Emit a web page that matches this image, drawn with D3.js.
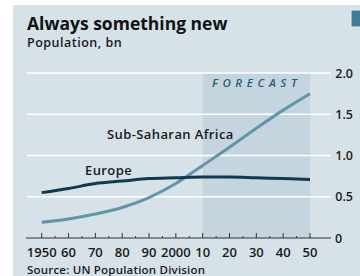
<!DOCTYPE html>
<html>
<head>
<meta charset="utf-8">
<script src="https://cdn.jsdelivr.net/npm/d3@7"></script>
<style>
  body { margin: 0; background: #fff; }
  svg { display: block; font-family: "Open Sans", "Noto Sans", sans-serif; }
</style>
</head>
<body>
<div id="chart"></div>
<script>
// data
let years = [1950, 1960, 1970, 1980, 1990, 2000, 2010, 2020, 2030, 2040, 2050];
let europe = [0.55, 0.60, 0.66, 0.69, 0.72, 0.73, 0.74, 0.74, 0.73, 0.72, 0.71];
let subSaharan = [0.19, 0.23, 0.29, 0.37, 0.49, 0.66, 0.88, 1.10, 1.33, 1.55, 1.75];
let yTicks = [0, 0.5, 1.0, 1.5, 2.0];
let yTickLabels = ["0", "0.5", "1.0", "1.5", "2.0"];
let xTickLabels = ["1950", "60", "70", "80", "90", "2000", "10", "20", "30", "40", "50"];
let forecastStart = 2010, forecastEnd = 2050;

function init() {
    let width = 360, height = 276;
    let svg = d3.select("#chart").append("svg")
        .attr("width", width)
        .attr("height", height);

    // panel background
    svg.append("rect")
        .attr("x", 13).attr("y", 5)
        .attr("width", width - 13).attr("height", height - 5)
        .attr("fill", "#d6e1e8");
    // cut-off badge in top right corner
    svg.append("rect")
        .attr("x", 351).attr("y", 10)
        .attr("width", 12).attr("height", 17)
        .attr("fill", "#3e7d95")
        .attr("stroke", "#eaf1f4").attr("stroke-width", 1);

    let x = d3.scaleLinear().domain([1950, 2050]).range([41.7, 310]);
    let y = d3.scaleLinear().domain([0, 2]).range([238, 73]);

    // forecast shading
    svg.append("rect")
        .attr("x", x(forecastStart))
        .attr("y", y(2))
        .attr("width", x(forecastEnd) - x(forecastStart))
        .attr("height", y(0) - y(2))
        .attr("fill", "#c4d5df");

    // gridlines
    svg.selectAll(".grid")
        .data(yTicks.filter(d => d > 0))
        .join("line")
        .attr("class", "grid")
        .attr("x1", 27).attr("x2", 331)
        .attr("y1", d => y(d)).attr("y2", d => y(d))
        .attr("stroke", "#fff")
        .attr("stroke-width", 1.4);

    // right axis labels
    svg.selectAll(".ylab")
        .data(yTicks)
        .join("text")
        .attr("class", "ylab")
        .attr("x", d => d === 0 ? 335 : 353)
        .attr("y", d => y(d) + 4.5)
        .attr("text-anchor", d => d === 0 ? "start" : "end")
        .attr("font-size", 12.5)
        .attr("font-weight", 600)
        .attr("fill", "#1a1a1a")
        .text((d, i) => yTickLabels[i]);

    // x axis line and ticks
    svg.append("line")
        .attr("x1", 26).attr("x2", 331)
        .attr("y1", y(0)).attr("y2", y(0))
        .attr("stroke", "#333").attr("stroke-width", 1);
    let minor = d3.range(1950, 2051, 5);
    svg.selectAll(".tick")
        .data(minor)
        .join("line")
        .attr("class", "tick")
        .attr("x1", d => x(d)).attr("x2", d => x(d))
        .attr("y1", y(0))
        .attr("y2", d => d % 10 === 0 ? y(0) - 5 : y(0) - 2)
        .attr("stroke", "#333").attr("stroke-width", 1);

    svg.selectAll(".xlab")
        .data(years)
        .join("text")
        .attr("class", "xlab")
        .attr("x", d => x(d))
        .attr("y", 257)
        .attr("text-anchor", "middle")
        .attr("font-size", 13)
        .attr("font-weight", 600)
        .attr("fill", "#1a1a1a")
        .text((d, i) => xTickLabels[i]);

    // lines
    let line = d3.line()
        .x((d, i) => x(years[i]))
        .y(d => y(d))
        .curve(d3.curveMonotoneX);
    svg.append("path")
        .attr("d", line(subSaharan))
        .attr("fill", "none")
        .attr("stroke", "#5e97aa")
        .attr("stroke-width", 3);
    svg.append("path")
        .attr("d", line(europe))
        .attr("fill", "none")
        .attr("stroke", "#0e3a50")
        .attr("stroke-width", 3);

    // series labels
    svg.append("text")
        .attr("x", 85).attr("y", 175)
        .attr("font-size", 13).attr("font-weight", 600)
        .attr("letter-spacing", 0.4)
        .attr("fill", "#1a1a1a")
        .text("Europe");
    svg.append("text")
        .attr("x", 107).attr("y", 139)
        .attr("font-size", 13).attr("font-weight", 600)
        .attr("letter-spacing", 0.4)
        .attr("fill", "#1a1a1a")
        .text("Sub-Saharan Africa");

    // forecast label
    svg.append("text")
        .attr("x", 212).attr("y", 87)
        .attr("font-size", 11.5).attr("font-style", "italic")
        .attr("font-weight", 600)
        .attr("letter-spacing", 4.6)
        .attr("fill", "#245f76")
        .text("FORECAST");

    // titles
    svg.append("text")
        .attr("x", 27).attr("y", 30)
        .attr("font-size", 17.5).attr("font-weight", 700)
        .attr("fill", "#111")
        .text("Always something new");
    svg.append("text")
        .attr("x", 27).attr("y", 47)
        .attr("font-size", 12.5).attr("font-weight", 600)
        .attr("letter-spacing", 0.5)
        .attr("fill", "#1a1a1a")
        .text("Population, bn");
    svg.append("text")
        .attr("x", 27).attr("y", 274)
        .attr("font-size", 11.5).attr("font-weight", 600)
        .attr("letter-spacing", 0.2)
        .attr("fill", "#1a1a1a")
        .text("Source: UN Population Division");
}
window.onload = init;
</script>
</body>
</html>
